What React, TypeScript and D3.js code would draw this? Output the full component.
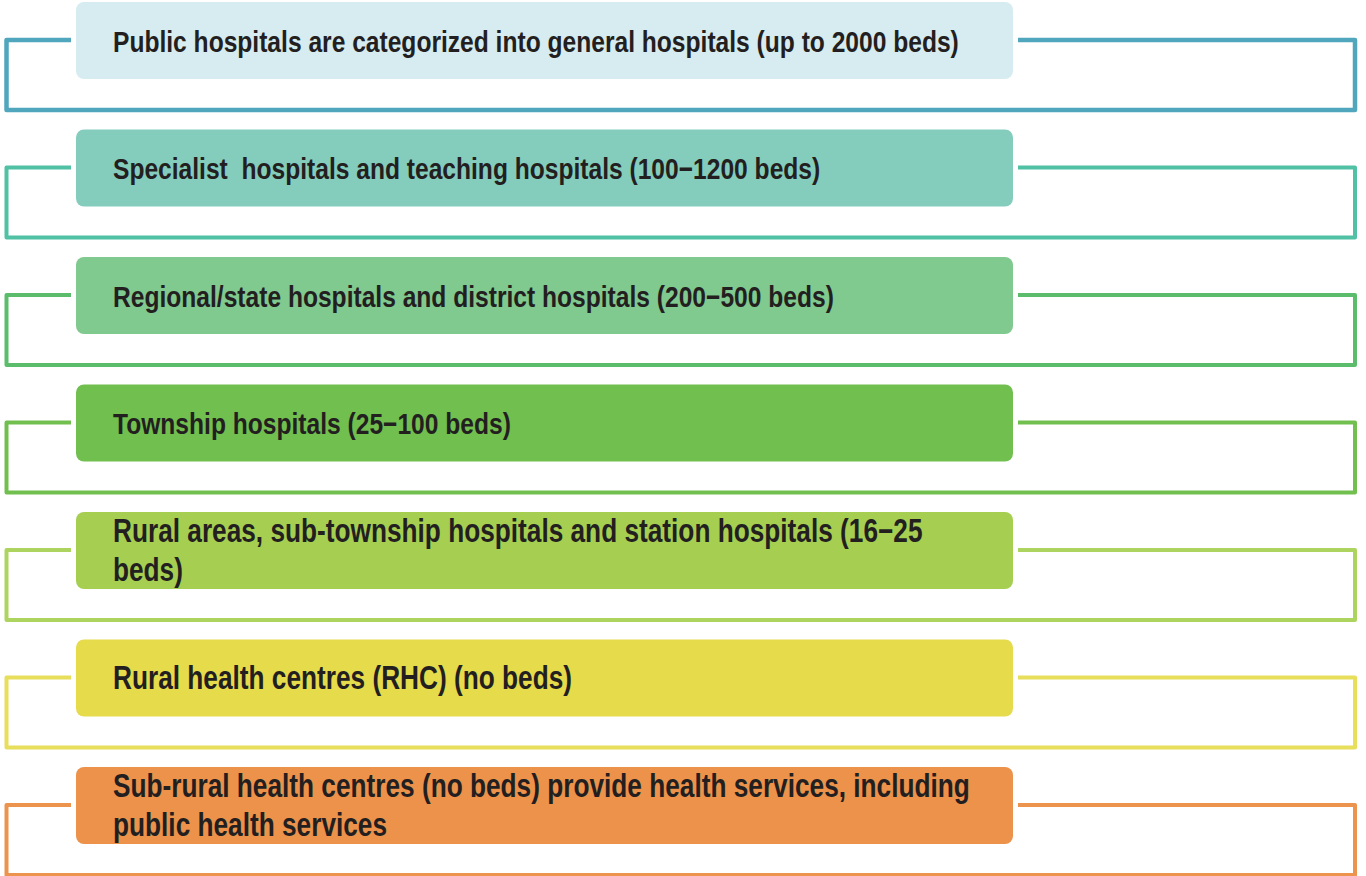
import React from "react";
import { scaleBand } from "d3";

// hospital tiers, top to bottom
const tiers = [
  "Public hospitals are categorized into general hospitals (up to 2000 beds)",
  "Specialist  hospitals and teaching hospitals (100\u22121200 beds)",
  "Regional/state hospitals and district hospitals (200\u2212500 beds)",
  "Township hospitals (25\u2212100 beds)",
  "Rural areas, sub-township hospitals and station hospitals (16\u221225 beds)",
  "Rural health centres (RHC) (no beds)",
  "Sub-rural health centres (no beds) provide health services, including public health services",
];

// wrapped lines as they appear in the figure
const tierLines = [
  ["Public hospitals are categorized into general hospitals (up to 2000 beds)"],
  ["Specialist  hospitals and teaching hospitals (100\u22121200 beds)"],
  ["Regional/state hospitals and district hospitals (200\u2212500 beds)"],
  ["Township hospitals (25\u2212100 beds)"],
  ["Rural areas, sub-township hospitals and station hospitals (16\u221225", "beds)"],
  ["Rural health centres (RHC) (no beds)"],
  ["Sub-rural health centres (no beds) provide health services, including", "public health services"],
];

const fills = ["#d7ecf1", "#84cdbd", "#80c98f", "#71bf4f", "#a6cf52", "#e5db4b", "#ec924a"];
const strokes = ["#4fa6bd", "#50c1a4", "#5bbd6b", "#71bf4f", "#add45f", "#e7de5c", "#ec934d"];

const W = 1366;
const H = 876;

function App() {
  // step 127.5, box height 77
  const pad = 50.5 / 127.5;
  const y = scaleBand<number>()
    .domain(tiers.map((_, i) => i))
    .range([2, 2 + 7 * 127.5])
    .paddingInner(pad)
    .paddingOuter(pad / 2)
    .align(0);

  const boxX0 = 76;
  const boxX1 = 1013;
  const h = y.bandwidth();

  return (
    <svg
      width={W}
      height={H}
      style={{ position: "absolute", left: 0, top: 0, background: "#fff" }}
    >
      {tiers.map((t, i) => {
        const top = y(i) as number;
        const mid = top + 38;
        const bot = top + 108;
        const big = i >= 4;
        const lines = tierLines[i];
        const fs = big ? 33 : 30;
        const sx = big ? 0.795 : 0.82;
        const firstBase = lines.length > 1 ? top + 30 : top + 50;
        return (
          <g key={i}>
            <path
              d={`M71,${mid}H6.5V${bot}H1355V${mid}H1018`}
              fill="none"
              stroke={strokes[i]}
              strokeWidth={i === 0 ? 4.5 : 4}
              strokeLinejoin="round"
            />
            <rect
              x={boxX0}
              y={top}
              width={boxX1 - boxX0}
              height={h}
              rx={8}
              fill={fills[i]}
            />
            <text
              transform={`translate(113,0) scale(${sx},1)`}
              fontFamily="'Liberation Sans', Arial, sans-serif"
              fontWeight="bold"
              fontSize={fs}
              fill="#231f20"
              style={{ whiteSpace: "pre" }}
            >
              {lines.map((l, j) => (
                <tspan key={j} x={0} y={firstBase + j * 39.5}>
                  {l}
                </tspan>
              ))}
            </text>
          </g>
        );
      })}
    </svg>
  );
}

export default App;
